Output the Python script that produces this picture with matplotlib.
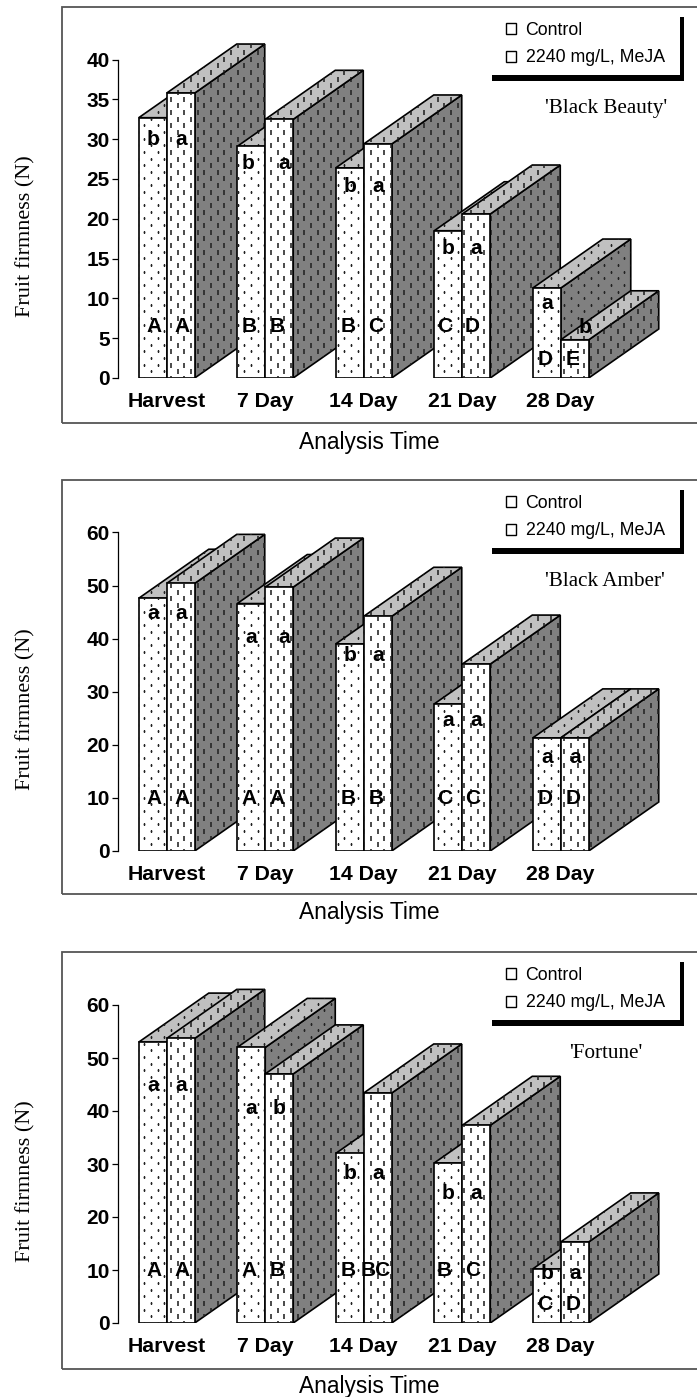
import matplotlib
matplotlib.use('Agg')
import matplotlib.pyplot as plt
import numpy as np
from matplotlib.lines import Line2D
from matplotlib.patches import Polygon, Rectangle

plt.rcParams['font.family'] = ['Liberation Sans', 'DejaVu Sans']

W = 697
H = 1397

days = ['Harvest', '7 Day', '14 Day', '21 Day', '28 Day']
legend_labels = ['Control', '2240 mg/L, MeJA']
ylabel = 'Fruit firmness (N)'
xlabel = 'Analysis Time'

# Black Beauty
control_bb = [32.7, 29.1, 26.4, 18.5, 11.3]
meja_bb = [35.8, 32.5, 29.4, 20.6, 4.8]
lower_bb = [['b', 'a'], ['b', 'a'], ['b', 'a'], ['b', 'a'], ['a', 'b']]
upper_bb = [['A', 'A'], ['B', 'B'], ['B', 'C'], ['C', 'D'], ['D', 'E']]
lower_y_bb = [[29.9, 29.9], [27.0, 27.0], [24.1, 24.1], [16.3, 16.3], [9.4, 6.4]]
upper_y_bb = [6.5, 6.5, 6.5, 6.5, 2.3]
ticks_bb = [0, 5, 10, 15, 20, 25, 30, 35, 40]

# Black Amber
control_ba = [47.6, 46.6, 39.0, 27.7, 21.3]
meja_ba = [50.4, 49.7, 44.2, 35.2, 21.3]
lower_ba = [['a', 'a'], ['a', 'a'], ['b', 'a'], ['a', 'a'], ['a', 'a']]
upper_ba = [['A', 'A'], ['A', 'A'], ['B', 'B'], ['C', 'C'], ['D', 'D']]
lower_y_ba = [[44.8, 44.8], [40.3, 40.3], [36.9, 36.9], [24.5, 24.5], [17.7, 17.7]]
upper_y_ba = [9.8, 9.8, 9.8, 9.8, 9.8]
ticks_ba = [0, 10, 20, 30, 40, 50, 60]

# Fortune
control_fo = [53.0, 52.0, 32.0, 30.2, 10.2]
meja_fo = [53.7, 47.0, 43.4, 37.3, 15.3]
lower_fo = [['a', 'a'], ['a', 'b'], ['b', 'a'], ['b', 'a'], ['b', 'a']]
upper_fo = [['A', 'A'], ['A', 'B'], ['B', 'BC'], ['B', 'C'], ['C', 'D']]
lower_y_fo = [[44.9, 44.9], [40.4, 40.4], [28.3, 28.3], [24.5, 24.5], [9.4, 9.4]]
upper_y_fo = [10.0, 10.0, 10.0, 10.0, 3.4]
ticks_fo = [0, 10, 20, 30, 40, 50, 60]

# layout in pixels
AXIS_X = 117.5
AXES_RIGHT = 690
GROUP_W = 98.5
BAR_W = 28.0 / GROUP_W
DEPTH_X = 70.0
DEPTH_Y = 49.0
SIDE = '#808080'
TOP = '#c0c0c0'
UPPER_SHIFT = [1, -2, -2, -4, -2]

fig = plt.figure(figsize=(W / 100, H / 100), dpi=100, facecolor='white')


def fx(px):
    return px / W


def fy(py):
    return 1 - py / H


def add_texture(ax, poly, kind, lattice, order):
    xs, ys = poly.get_xy()[:, 0], poly.get_xy()[:, 1]
    lx, ly = lattice
    keep = (lx > xs.min() - 0.1) & (lx < xs.max() + 0.1) & (ly > ys.min() - 3) & (ly < ys.max() + 3)
    if kind == 'dots':
        line = Line2D(lx[keep], ly[keep], ls='none', marker='s', ms=1.3, mfc='#222222', mew=0, zorder=order)
    else:
        line = Line2D(lx[keep], ly[keep], ls='none', marker='|', ms=3.6, mec='#222222', mew=1.15, zorder=order)
    ax.add_line(line)
    line.set_clip_path(poly)


def draw_box(ax, left, value, kind, lattice, scale, order):
    right = left + BAR_W
    dx = DEPTH_X / GROUP_W
    dy = DEPTH_Y / scale
    faces = [
        ([(right, 0), (right + dx, dy), (right + dx, value + dy), (right, value)], SIDE),
        ([(left, value), (left + dx, value + dy), (right + dx, value + dy), (right, value)], TOP),
        ([(left, 0), (right, 0), (right, value), (left, value)], 'white'),
    ]
    for pts, color in faces:
        order += 1
        poly = Polygon(pts, closed=True, facecolor=color, edgecolor='black', lw=1.2, joinstyle='miter', zorder=order)
        ax.add_patch(poly)
        add_texture(ax, poly, kind, lattice, order + 0.5)
    return order


def draw_panel(top, bottom, y0, scale, control, meja, lower, upper, lower_y, upper_y, ticks, name, name_x, name_y,
               label_y, nudges):
    fig.add_artist(Rectangle((fx(62), fy(bottom)), fx(700 - 62), fy(top) - fy(bottom), transform=fig.transFigure,
                             facecolor='none', edgecolor='#555555', lw=1.3))

    ax = fig.add_axes([fx(AXIS_X), fy(y0), fx(AXES_RIGHT - AXIS_X), fy(top + 2) - fy(y0)])
    ax.patch.set_alpha(0)
    ax.set_xlim(0, (AXES_RIGHT - AXIS_X) / GROUP_W)
    ax.set_ylim(0, (y0 - top - 2) / scale)

    for s in ['top', 'right', 'bottom']:
        ax.spines[s].set_visible(False)
    ax.spines['left'].set_bounds(0, ticks[-1])
    ax.spines['left'].set_linewidth(0.9)
    ax.set_yticks(ticks)
    ax.tick_params(axis='y', length=4, width=0.9, pad=1.5, labelsize=15)
    for t in ax.get_yticklabels():
        t.set_fontweight('bold')
    centers = np.arange(len(days)) + 0.5
    ax.set_xticks(centers, days)
    ax.tick_params(axis='x', length=0, pad=10, labelsize=15.3)
    for t in ax.get_xticklabels():
        t.set_fontweight('bold')

    ax.set_xlabel(xlabel, fontsize=16.4, va='center')
    ax.xaxis.set_label_coords(fx(369), fy(label_y), transform=fig.transFigure)
    ax.set_ylabel(ylabel, family='Liberation Serif', fontsize=16, va='center')
    ax.yaxis.set_label_coords(fx(26), fy(top + 229), transform=fig.transFigure)

    # pattern grid, same for every face
    col = np.arange(0, 90) * 6.67
    row = np.arange(0, 40) * 13.3
    cx, cy = np.meshgrid(col, row)
    cy = cy + (np.arange(90) % 2) * 6.65
    lattice = (cx.ravel() / GROUP_W, cy.ravel() / scale)

    order = 2
    for i in range(len(days)):
        left = centers[i] - BAR_W
        order = draw_box(ax, left, control[i], 'dots', lattice, scale, order)
        order = draw_box(ax, left + BAR_W, meja[i], 'dashes', lattice, scale, order)

    for i in range(len(days)):
        for j in range(2):
            x = centers[i] - BAR_W + (j + 0.5) * BAR_W
            ax.text(x + nudges.get((i, j), 0) / GROUP_W, lower_y[i][j], lower[i][j], ha='center', va='center',
                    fontsize=15, fontweight='bold', zorder=1000)
            ax.text(x + UPPER_SHIFT[i] / GROUP_W, upper_y[i], upper[i][j], ha='center', va='center', fontsize=15,
                    fontweight='bold', zorder=1000)

    # legend with its black shadow
    fig.add_artist(Rectangle((fx(680), fy(top + 74)), fx(4), fy(top + 10) - fy(top + 74),
                             transform=fig.transFigure, facecolor='black', edgecolor='none'))
    fig.add_artist(Rectangle((fx(492), fy(top + 74)), fx(192), fy(top + 68) - fy(top + 74),
                             transform=fig.transFigure, facecolor='black', edgecolor='none'))
    handles = [Rectangle((0, 0), 1, 1, facecolor='white', edgecolor='black', lw=1.0) for _ in legend_labels]
    ax.legend(handles, legend_labels, loc='upper left', bbox_to_anchor=(fx(498.5), fy(top + 8)),
              bbox_transform=fig.transFigure, frameon=False, fontsize=12.8, handlelength=0.6, handleheight=0.6,
              handletextpad=0.52, labelspacing=0.58, borderpad=0.4, borderaxespad=0)

    fig.text(fx(name_x), fy(name_y), name, family='Liberation Serif', fontsize=15.2, ha='center', va='center')


draw_panel(7, 423, 378, 7.96, control_bb, meja_bb, lower_bb, upper_bb, lower_y_bb, upper_y_bb, ticks_bb,
           "'Black Beauty'", 606, 108, 442, {(1, 0): -3, (1, 1): 5, (4, 1): 10})
draw_panel(480, 894, 851, 5.31, control_ba, meja_ba, lower_ba, upper_ba, lower_y_ba, upper_y_ba, ticks_ba,
           "'Black Amber'", 605, 581, 913, {(1, 1): 5})
draw_panel(952, 1369, 1323, 5.3, control_fo, meja_fo, lower_fo, upper_fo, lower_y_fo, upper_y_fo, ticks_fo,
           "'Fortune'", 606, 1053, 1386, {})

fig.savefig('out.png', dpi=100)
